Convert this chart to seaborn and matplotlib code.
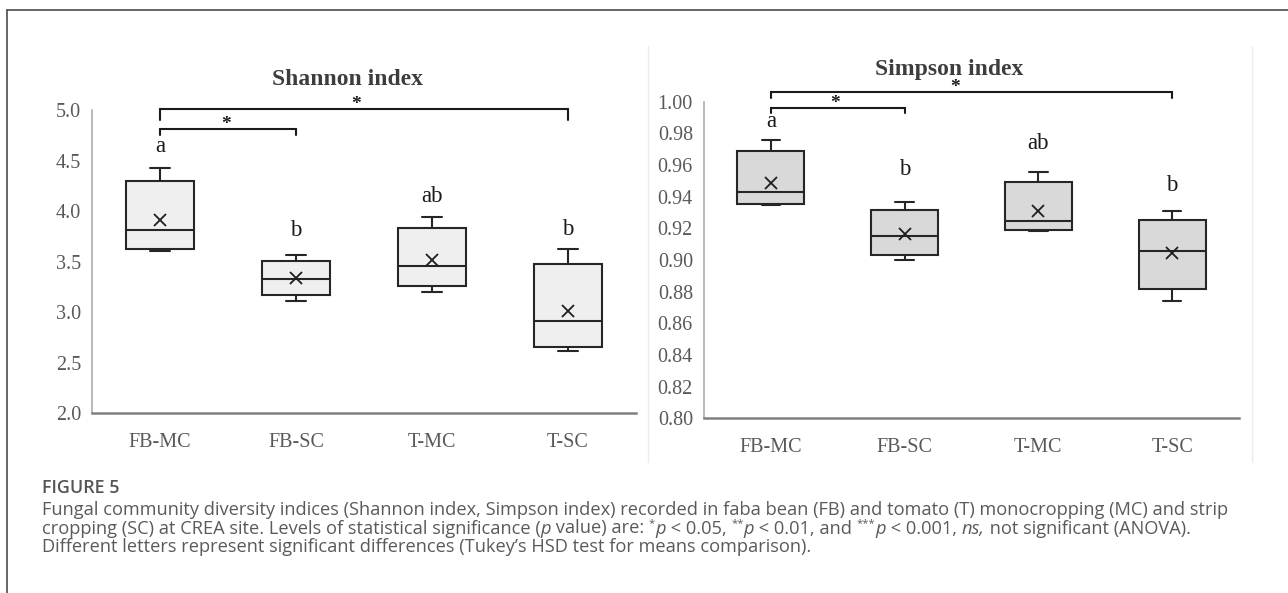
import numpy as np
import pandas as pd
import matplotlib
matplotlib.use("Agg")
import matplotlib.pyplot as plt
from matplotlib.lines import Line2D
import seaborn as sns

# ---------------------------------------------------------------- data
groups = ["FB-MC", "FB-SC", "T-MC", "T-SC"]

# Shannon index: whisker ends, quartiles, median and mean per treatment
shannon_low = [3.61, 3.11, 3.20, 2.62]
shannon_q1 = [3.63, 3.17, 3.255, 2.66]
shannon_median = [3.81, 3.325, 3.46, 2.91]
shannon_q3 = [4.30, 3.51, 3.835, 3.48]
shannon_high = [4.43, 3.57, 3.94, 3.63]
shannon_mean = [3.91, 3.335, 3.52, 3.015]
shannon_letters = ["a", "b", "ab", "b"]

# Simpson index
simpson_low = [0.9347, 0.9000, 0.9186, 0.8743]
simpson_q1 = [0.9351, 0.9032, 0.9188, 0.8819]
simpson_median = [0.9428, 0.9150, 0.9248, 0.9059]
simpson_q3 = [0.9687, 0.9319, 0.9493, 0.9253]
simpson_high = [0.9755, 0.9368, 0.9554, 0.9311]
simpson_mean = [0.9488, 0.9166, 0.9311, 0.9042]
simpson_letters = ["a", "b", "ab", "b"]

# pairwise tests: (first group, second group, significance)
comparisons = [("FB-MC", "FB-SC", "*"), ("FB-MC", "T-SC", "*")]

caption_title = "FIGURE 5"

# ---------------------------------------------------------------- layout
shannon_layout = dict(
    box=(92, 110, 636, 413.3), title_xy=(347, 85), fill="#efefef",
    ylim=(2.0, 5.0), step=0.5, fmt="{:.1f}",
    letter_base=[4.58, 3.75, 4.09, 3.76],
    bracket_y=[4.81, 5.007], bracket_drop=[0.057, 0.106], star_x=[0.485, 1.445],
)
simpson_layout = dict(
    box=(704, 101.7, 1239, 418.3), title_xy=(949, 75), fill="#d9d9d9",
    ylim=(0.80, 1.00), step=0.02, fmt="{:.2f}",
    letter_base=[0.9842, 0.9537, 0.9701, 0.9438],
    bracket_y=[0.9963, 1.0064], bracket_drop=[0.0032, 0.0038], star_x=[0.48, 1.376],
)

sns.set_style("white")
plt.rcParams["font.family"] = ["Liberation Serif", "DejaVu Serif"]

W, H, DPI = 1288, 593, 100
fig = plt.figure(figsize=(W / DPI, H / DPI), dpi=DPI)
fig.patch.set_facecolor("white")


def fx(px):
    return px / W


def fy(py):
    return 1 - py / H


def summary_frame(low, q1, med, q3, high):
    records = []
    for g, five in zip(groups, zip(low, q1, med, q3, high)):
        records += [(g, v) for v in five]
    return pd.DataFrame(records, columns=["group", "value"])


def draw_panel(title, stats, means, letters, lay):
    left, top, right, bottom = lay["box"]
    ax = fig.add_axes([fx(left), fy(bottom), fx(right) - fx(left), fy(top) - fy(bottom)])
    df = summary_frame(*stats)
    sns.boxplot(data=df, x="group", y="value", order=groups, ax=ax,
                width=0.5, whis=(0, 100), color=lay["fill"], saturation=1,
                linecolor="#262626", linewidth=1.5, showfliers=False,
                capwidths=0.14)
    sns.pointplot(x=groups, y=means, order=groups, ax=ax, linestyle="none",
                  marker="x", color="#1e1e1e", markersize=8,
                  markeredgewidth=1.3, errorbar=None, zorder=5)

    lo, hi = lay["ylim"]
    ticks = np.arange(lo, hi + lay["step"] / 2, lay["step"])
    ax.set_ylim(lo, hi)
    ax.set_xlim(-0.5, len(groups) - 0.5)
    ax.set_yticks(ticks)
    ax.set_yticklabels([lay["fmt"].format(t) for t in ticks])
    ax.set_xlabel("")
    ax.set_ylabel("")
    ax.tick_params(axis="y", length=0, pad=8, labelsize=14.5, labelcolor="#595959")
    ax.tick_params(axis="x", length=0, pad=14.5, labelsize=14.5, labelcolor="#595959")
    for side in ("top", "right"):
        ax.spines[side].set_visible(False)
    ax.spines["left"].set_color("#a6a6a6")
    ax.spines["left"].set_linewidth(1.1)
    ax.spines["bottom"].set_color("#808080")
    ax.spines["bottom"].set_linewidth(1.8)
    ax.grid(False)

    # compact letter display
    for i, (lab, yb) in enumerate(zip(letters, lay["letter_base"])):
        ax.text(i, yb, lab, ha="center", va="baseline", fontsize=16.5,
                color="#1a1a1a", clip_on=False)

    # significance brackets
    for (g1, g2, sig), yb, drop, sx in zip(comparisons, lay["bracket_y"],
                                           lay["bracket_drop"], lay["star_x"]):
        x1, x2 = groups.index(g1), groups.index(g2)
        ax.plot([x1, x1, x2, x2], [yb - drop, yb, yb, yb - drop],
                color="#1a1a1a", lw=1.5, clip_on=False, solid_joinstyle="miter")
        ax.text(sx, yb, sig, ha="center", va="baseline", fontsize=14,
                fontweight="bold", color="#1a1a1a", clip_on=False)

    tx, ty = lay["title_xy"]
    fig.text(fx(tx), fy(ty), title, ha="center", va="baseline", fontsize=17,
             fontweight="bold", color="#3d3d3d")
    return ax


draw_panel("Shannon index",
           (shannon_low, shannon_q1, shannon_median, shannon_q3, shannon_high),
           shannon_mean, shannon_letters, shannon_layout)
draw_panel("Simpson index",
           (simpson_low, simpson_q1, simpson_median, simpson_q3, simpson_high),
           simpson_mean, simpson_letters, simpson_layout)

# thin frame of the second graphic
for xp in (648, 1252):
    fig.add_artist(Line2D([fx(xp), fx(xp)], [fy(46), fy(462)],
                          transform=fig.transFigure, color="#ececec", lw=1))

# outer figure border (top and left)
border = "#4d4d4d"
fig.add_artist(Line2D([fx(7), fx(W)], [fy(10), fy(10)], transform=fig.transFigure,
                      color=border, lw=1.2))
fig.add_artist(Line2D([fx(7), fx(7)], [fy(10), fy(H)], transform=fig.transFigure,
                      color=border, lw=1.2))

# ---------------------------------------------------------------- caption
renderer = fig.canvas.get_renderer()
cap_font = ["Open Sans", "DejaVu Sans"]
cap_color = "#5a5a5a"


def advance(s, **kw):
    t = fig.text(0, 0, "|" + s + "|", **kw)
    w = t.get_window_extent(renderer).width
    t.remove()
    t2 = fig.text(0, 0, "||", **kw)
    w2 = t2.get_window_extent(renderer).width
    t2.remove()
    return w - w2


line1 = ("Fungal community diversity indices (Shannon index, Simpson index) recorded in "
         "faba bean (FB) and tomato (T) monocropping (MC) and strip")
base_kw = dict(family=cap_font, color=cap_color)
cap_size = 10 * 1186.0 / advance(line1, fontsize=10, **base_kw)


def draw_runs(x_px, base_px, runs):
    x = x_px
    for text, style in runs:
        kw = dict(base_kw, fontsize=cap_size)
        y = base_px
        if style == "i":
            kw["style"] = "italic"
        elif style == "sup":
            kw["fontsize"] = cap_size * 0.62
            y = base_px - cap_size * 0.6
        fig.text(fx(x), fy(y), text, ha="left", va="baseline", **kw)
        x += advance(text, **kw)


fig.text(fx(41.7), fy(493.3), caption_title, ha="left", va="baseline",
         fontsize=cap_size * 0.98, fontweight="semibold", family=cap_font,
         color="#555555")
draw_runs(41.7, 515, [(line1, "r")])
draw_runs(41.7, 533.5, [
    ("cropping (SC) at CREA site. Levels of statistical significance (", "r"),
    ("p", "i"), (" value) are: ", "r"),
    ("*", "sup"), ("p", "i"), (" < 0.05, ", "r"),
    ("**", "sup"), ("p", "i"), (" < 0.01, and ", "r"),
    ("***", "sup"), ("p", "i"), (" < 0.001, ", "r"),
    ("ns,", "i"), (" not significant (ANOVA).", "r"),
])
draw_runs(41.7, 552, [
    ("Different letters represent significant differences "
     "(Tukey\u2019s HSD test for means comparison).", "r"),
])

fig.savefig("out.png", dpi=DPI, facecolor="white")
